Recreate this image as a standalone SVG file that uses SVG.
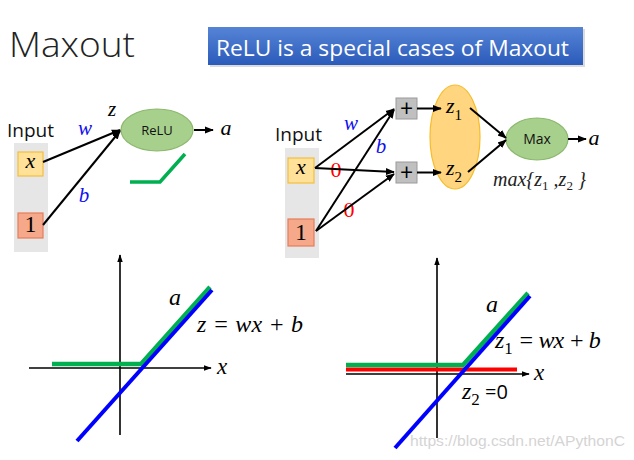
<svg xmlns="http://www.w3.org/2000/svg" width="634" height="460" viewBox="0 0 634 460">
<defs>
  <linearGradient id="bannerGrad" x1="0" y1="0" x2="0" y2="1">
    <stop offset="0" stop-color="#5584D6"/>
    <stop offset="1" stop-color="#2B5BBA"/>
  </linearGradient>
  <marker id="arr" viewBox="0 0 10 10" refX="9" refY="5" markerWidth="4.5" markerHeight="4.5" orient="auto" markerUnits="strokeWidth">
    <path d="M0,1 L10,5 L0,9 Z" fill="#000"/>
  </marker>
  <marker id="arrAx" viewBox="0 0 10 10" refX="9" refY="5" markerWidth="5" markerHeight="5" orient="auto" markerUnits="strokeWidth">
    <path d="M0,1.5 L10,5 L0,8.5 Z" fill="#000"/>
  </marker>
  <style>
    .sans { font-family: "Open Sans", "Liberation Sans", sans-serif; }
    .math { font-family: "Liberation Serif", "DejaVu Serif", serif; font-style: italic; }
    .num { font-family: "Liberation Serif", "DejaVu Serif", serif; }
    .conn { stroke: #000; stroke-width: 2; fill: none; marker-end: url(#arr); }
    .axis { stroke: #000; stroke-width: 1.6; fill: none; marker-end: url(#arrAx); }
    .panel { fill: #E6E6E6; }
    .xbox { fill: #FFE19A; stroke: #F4BE3C; stroke-width: 1.2; }
    .onebox { fill: #F6A98A; stroke: #E47E5B; stroke-width: 1.2; }
    .plus { fill: #C0C0C0; stroke: #9A9A9A; stroke-width: 1; }
    .greenNode { fill: #A8D08D; stroke: #8CB86E; stroke-width: 1.2; }
    .blue { fill: #1010F0; }
    .red { fill: #FF0000; }
    .gLine { stroke: #00B050; stroke-width: 4.5; fill: none; }
    .bLine { stroke: #0000FF; stroke-width: 4; fill: none; }
    .rLine { stroke: #FF0000; stroke-width: 4; fill: none; }
  </style>
</defs>
<rect width="634" height="460" fill="#fff"/>

<g id="title">
  <text class="sans" x="9" y="57" font-size="35" font-weight="300" fill="#222" textLength="126" lengthAdjust="spacingAndGlyphs">Maxout</text>
</g>

<g id="banner">
  <rect x="210" y="29" width="375" height="38" fill="#999" opacity="0.35"/>
  <rect x="208" y="27" width="375" height="38" fill="url(#bannerGrad)"/>
  <text class="sans" x="216" y="56" font-size="22" fill="#fff" textLength="353" lengthAdjust="spacingAndGlyphs">ReLU is a special cases of Maxout</text>
</g>

<!-- Left network -->
<g id="left-input">
  <text class="sans" x="7" y="137" font-size="19" fill="#111">Input</text>
  <rect class="panel" x="14" y="143" width="34" height="109"/>
</g>
<g id="left-x">
  <rect class="xbox" x="18" y="152" width="25" height="24"/>
  <text class="math" x="30.5" y="168" font-size="22" text-anchor="middle">x</text>
</g>
<g id="left-1">
  <rect class="onebox" x="18" y="213" width="25" height="25"/>
  <text class="num" x="30.5" y="232" font-size="24" text-anchor="middle">1</text>
</g>
<g id="relu">
  <ellipse class="greenNode" cx="157" cy="130" rx="36" ry="21"/>
  <text class="sans" x="157" y="135" font-size="13" text-anchor="middle" fill="#111">ReLU</text>
</g>
<g id="relu-icon">
  <polyline points="130,182 160,182 185,154" stroke="#00B050" stroke-width="3.5" fill="none"/>
</g>
<g id="left-labels">
  <text class="math" x="112" y="116" font-size="21" text-anchor="middle">z</text>
  <text class="math blue" x="85" y="135" font-size="21" text-anchor="middle">w</text>
  <text class="math blue" x="84" y="202" font-size="21" text-anchor="middle">b</text>
  <text class="math" x="226" y="135" font-size="22" text-anchor="middle">a</text>
</g>

<!-- Right network -->
<g id="right-input">
  <text class="sans" x="275" y="141" font-size="19" fill="#111">Input</text>
  <rect class="panel" x="285" y="148" width="34" height="110"/>
</g>
<g id="right-x">
  <rect class="xbox" x="288" y="158" width="26" height="25"/>
  <text class="math" x="301" y="174" font-size="22" text-anchor="middle">x</text>
</g>
<g id="right-1">
  <rect class="onebox" x="288" y="219" width="26" height="27"/>
  <text class="num" x="301" y="240" font-size="24" text-anchor="middle">1</text>
</g>
<g id="plus-top">
  <rect class="plus" x="396" y="98" width="21" height="21"/>
  <text class="sans" x="406.5" y="116.5" font-size="23" text-anchor="middle" fill="#000">+</text>
</g>
<g id="plus-bottom">
  <rect class="plus" x="396" y="162" width="21" height="21"/>
  <text class="sans" x="406.5" y="180.5" font-size="23" text-anchor="middle" fill="#000">+</text>
</g>
<g id="z-group">
  <ellipse cx="455" cy="137" rx="25" ry="52" fill="#FFD57F" stroke="#F7BC2A" stroke-width="1.2"/>
  <text class="math" x="446" y="113" font-size="22">z<tspan class="num" font-style="normal" font-size="15" dy="7">1</tspan></text>
  <text class="math" x="446" y="175" font-size="22">z<tspan class="num" font-style="normal" font-size="15" dy="7">2</tspan></text>
</g>
<g id="max">
  <ellipse class="greenNode" cx="537" cy="139" rx="31" ry="21"/>
  <text class="sans" x="537" y="144" font-size="14" text-anchor="middle" fill="#111">Max</text>
</g>
<g id="right-labels">
  <text class="math blue" x="351" y="130" font-size="21" text-anchor="middle">w</text>
  <text class="math blue" x="381" y="153" font-size="21" text-anchor="middle">b</text>
  <text class="num red" x="336" y="177" font-size="22" text-anchor="middle">0</text>
  <text class="num red" x="349" y="217" font-size="22" text-anchor="middle">0</text>
  <text class="math" x="594" y="145" font-size="22" text-anchor="middle">a</text>
  <text class="math" x="493" y="186" font-size="20" fill="#222">max{z<tspan class="num" font-style="normal" font-size="13" dy="4">1</tspan><tspan dy="-4"> ,z</tspan><tspan class="num" font-style="normal" font-size="13" dy="4">2</tspan><tspan dy="-4">  }</tspan></text>
</g>

<g id="connectors">
  <line class="conn" x1="43" y1="162" x2="120" y2="130"/>
  <line class="conn" x1="43" y1="225" x2="120" y2="131"/>
  <line class="conn" x1="194" y1="130" x2="213" y2="130"/>
  <line class="conn" x1="315" y1="168" x2="394" y2="109"/>
  <line class="conn" x1="315" y1="168" x2="394" y2="172"/>
  <line class="conn" x1="316" y1="231" x2="394" y2="110"/>
  <line class="conn" x1="316" y1="231" x2="394" y2="174"/>
  <line class="conn" x1="417" y1="108.5" x2="441" y2="108.5"/>
  <line class="conn" x1="417" y1="172.5" x2="441" y2="172.5"/>
  <line class="conn" x1="470" y1="108" x2="506" y2="138"/>
  <line class="conn" x1="468" y1="172" x2="506" y2="140"/>
  <line class="conn" x1="568" y1="139" x2="586" y2="139"/>
</g>

<!-- Bottom left graph -->
<g id="graph-left">
  <line class="axis" x1="120" y1="435" x2="120" y2="255"/>
  <line class="axis" x1="29" y1="368" x2="211" y2="368"/>
  <polyline class="gLine" points="52,364 141,364 210,287"/>
  <line class="bLine" x1="77" y1="441" x2="212" y2="290"/>
  <text class="math" x="175" y="305" font-size="24" text-anchor="middle">a</text>
  <text class="math" x="197" y="332" font-size="24" textLength="106" lengthAdjust="spacing">z = wx + b</text>
  <text class="math" x="222" y="374" font-size="23" text-anchor="middle">x</text>
</g>

<!-- Bottom right graph -->
<g id="graph-right">
  <line class="axis" x1="437" y1="438" x2="437" y2="258"/>
  <line class="axis" x1="346" y1="374" x2="529" y2="374"/>
  <line class="rLine" x1="346" y1="369.5" x2="517" y2="369.5"/>
  <polyline class="gLine" points="346,365 463,365 528,293"/>
  <line class="bLine" x1="395" y1="448" x2="530" y2="296"/>
  <text class="math" x="492" y="312" font-size="24" text-anchor="middle">a</text>
  <text class="math" x="495" y="348" font-size="24">z<tspan class="num" font-style="normal" font-size="17" dy="6">1</tspan><tspan dy="-6" textLength="88" lengthAdjust="spacing"> = wx + b</tspan></text>
  <text class="math" x="539" y="380" font-size="23" text-anchor="middle">x</text>
  <text class="math" x="462" y="399" font-size="24">z<tspan class="num" font-style="normal" font-size="17" dy="6">2</tspan><tspan class="sans" font-style="normal" font-size="20" dy="-6"> =0</tspan></text>
</g>

<g id="watermark">
  <text x="410" y="446" font-family="Liberation Sans, Arial, sans-serif" font-size="15" fill="#D4D4D4" textLength="215" lengthAdjust="spacingAndGlyphs">https://blog.csdn.net/APythonC</text>
</g>
</svg>
